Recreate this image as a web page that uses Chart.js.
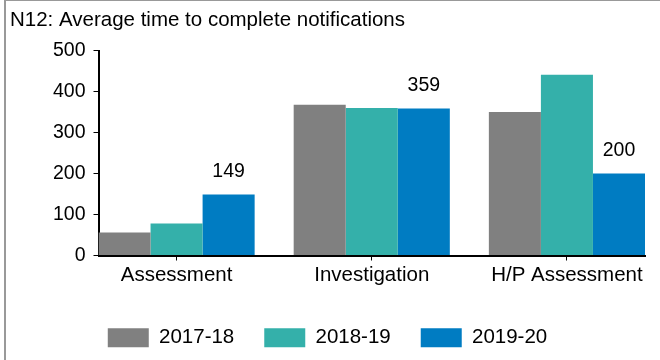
<!DOCTYPE html>
<html>
<head>
<meta charset="utf-8">
<title>N12: Average time to complete notifications</title>
<script src="https://cdn.jsdelivr.net/npm/chart.js@4/dist/chart.umd.min.js"></script>
<style>
  html, body { margin: 0; padding: 0; background: #fff; }
  #wrap { position: relative; width: 660px; height: 360px; overflow: hidden; }
  #frame { position: absolute; left: 4px; top: 0; right: 0; bottom: 0;
           border-top: 1px solid #999; border-left: 2px solid #999; pointer-events: none; }
  canvas { position: absolute; left: 0; top: 0; }
</style>
</head>
<body>
<div id="wrap">
  <canvas id="mycanvas" width="660" height="360"></canvas>
  <div id="frame"></div>
</div>
<script>
var categories = ['Assessment', 'Investigation', 'H/P Assessment'];
var years = ['2017-18', '2018-19', '2019-20'];
var days1718 = [56, 368, 350];
var days1819 = [78, 360, 441];
var days1920 = [149, 359, 200];
var yTicks = [0, 100, 200, 300, 400, 500];

var colours = ['#808080', '#34b0aa', '#007cc2'];
var fontFamily = '"Liberation Sans", Arial, sans-serif';

// bars sit on a linear x axis at 0, 1, 2 so the groups can touch both axis ends
function points(values) {
	return values.map(function(v, i) { return { x: i, y: v }; });
}

// value labels above the 2019-20 bars
var valueLabels = {
	id: 'valueLabels',
	afterDatasetsDraw: function(chart) {
		var ctx = chart.ctx;
		var meta = chart.getDatasetMeta(2);
		ctx.save();
		ctx.font = '19.5px ' + fontFamily;
		ctx.fillStyle = '#000';
		ctx.textAlign = 'center';
		ctx.textBaseline = 'alphabetic';
		meta.data.forEach(function(bar, i) {
			ctx.fillText(String(days1920[i]), bar.x, bar.y - 17.5);
		});
		ctx.restore();
	}
};

var ctx = document.getElementById('mycanvas');
var barGraph = new Chart(ctx, {
	type: 'bar',
	data: {
		datasets: [
			{ label: years[0], backgroundColor: colours[0], data: points(days1718) },
			{ label: years[1], backgroundColor: colours[1], data: points(days1819) },
			{ label: years[2], backgroundColor: colours[2], data: points(days1920) }
		]
	},
	options: {
		responsive: false,
		animation: false,
		devicePixelRatio: 1,
		categoryPercentage: 0.8,
		barPercentage: 1,
		layout: { padding: { left: 10, right: 15, top: 0, bottom: 2 } },
		scales: {
			x: {
				type: 'linear',
				offset: false,
				min: -0.4,
				max: 2.4,
				afterBuildTicks: function(scale) {
					scale.ticks = categories.map(function(c, i) { return { value: i }; });
				},
				afterFit: function(scale) { scale.height = 42; },
				ticks: {
					color: '#000',
					padding: 3,
					font: { family: fontFamily, size: 20.5 },
					callback: function(value) { return categories[value]; }
				},
				grid: { drawOnChartArea: false, offset: false, color: '#000', tickLength: 5, lineWidth: 1 },
				border: { color: '#000', width: 2 }
			},
			y: {
				min: 0,
				max: 500,
				afterBuildTicks: function(scale) {
					scale.ticks = yTicks.map(function(v) { return { value: v }; });
				},
				afterFit: function(scale) { scale.width = 88.5; },
				ticks: {
					color: '#000',
					padding: 8,
					font: { family: fontFamily, size: 19.5 }
				},
				grid: { drawOnChartArea: false, color: '#000', tickLength: 5, lineWidth: 1 },
				border: { color: '#000', width: 2 }
			}
		},
		plugins: {
			title: {
				display: true,
				text: 'N12: Average time to complete notifications',
				align: 'start',
				color: '#000',
				font: { family: fontFamily, size: 20.5, weight: 'normal' },
				padding: { top: 8, bottom: 18 }
			},
			legend: {
				position: 'bottom',
				labels: {
					color: '#000',
					boxWidth: 41,
					boxHeight: 19,
					padding: 30,
					font: { family: fontFamily, size: 20.5 }
				}
			},
			tooltip: { enabled: false }
		}
	},
	plugins: [valueLabels]
});
</script>
</body>
</html>
